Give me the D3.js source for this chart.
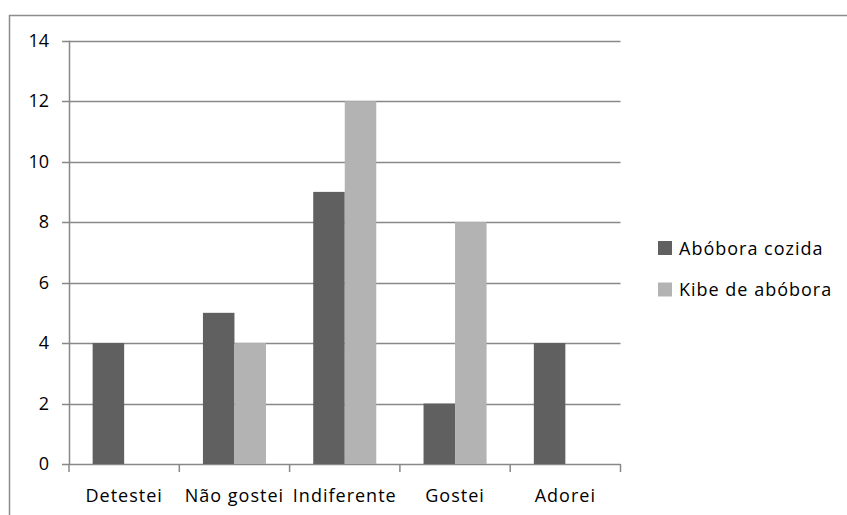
<!DOCTYPE html>
<html><head><meta charset="utf-8">
<script src="https://cdn.jsdelivr.net/npm/d3@7"></script>
<style>body{margin:0;background:#fff;}svg{display:block;font-family:"Open Sans","Noto Sans",sans-serif;}</style>
</head><body><svg id="c" width="847" height="515"></svg>
<script>
const categories = ["Detestei", "Não gostei", "Indiferente", "Gostei", "Adorei"];
const seriesNames = ["Abóbora cozida", "Kibe de abóbora"];
const aboboraCozida = [4, 5, 9, 2, 4];
const kibeDeAbobora = [0, 4, 12, 8, 0];
const yTicks = [0, 2, 4, 6, 8, 10, 12, 14];
const colors = ["#606060", "#b3b3b3"];

(function () {
const svg = d3.select("#c");
svg.append("rect").attr("x", 9.5).attr("y", 15.5).attr("width", 900).attr("height", 600)
  .attr("fill", "none").attr("stroke", "#8c8c8c").attr("stroke-width", 1.5);

const pl = 69, pr = 620.5, pt = 40.7, pb = 464;
const x = d3.scaleBand().domain(categories).range([pl, pr]);
const y = d3.scaleLinear().domain([0, 14]).range([pb, pt]);
const series = [aboboraCozida, kibeDeAbobora];
const barW = x.bandwidth() / 3.5;

svg.append("g").selectAll("line").data(yTicks).join("line")
  .attr("x1", pl - 7).attr("x2", pr)
  .attr("y1", d => Math.round(y(d)) + 0.5).attr("y2", d => Math.round(y(d)) + 0.5)
  .attr("stroke", "#888").attr("stroke-width", 1.5);

series.forEach((vals, si) => {
  svg.append("g").selectAll("rect").data(vals.map((v, i) => ({v, c: categories[i]})).filter(d => d.v > 0)).join("rect")
    .attr("x", d => x(d.c) + x.bandwidth() / 2 - barW + si * barW)
    .attr("width", barW)
    .attr("y", d => y(d.v))
    .attr("height", d => y(0) - y(d.v))
    .attr("fill", colors[si]);
});

svg.append("line").attr("x1", pl + 0.5).attr("x2", pl + 0.5).attr("y1", pt).attr("y2", pb)
  .attr("stroke", "#888").attr("stroke-width", 1.5);
const xt = categories.map(c => x(c)).concat([x(categories[categories.length - 1]) + x.bandwidth()]);
svg.append("g").selectAll("line").data(xt).join("line")
  .attr("x1", d => d).attr("x2", d => d).attr("y1", pb).attr("y2", pb + 8)
  .attr("stroke", "#888").attr("stroke-width", 1.5);

svg.append("g").selectAll("text").data(yTicks).join("text")
  .attr("x", 49).attr("y", d => y(d) + 6).attr("text-anchor", "end")
  .attr("font-size", 18).attr("fill", "#000").text(d => d);

svg.append("g").selectAll("text").data(categories).join("text")
  .attr("x", d => x(d) + x.bandwidth() / 2).attr("y", 502).attr("text-anchor", "middle")
  .attr("font-size", 18).attr("letter-spacing", "1px").attr("fill", "#000").text(d => d);

const lg = svg.append("g");
seriesNames.forEach((n, i) => {
  const ly = 248 + i * 41.5;
  lg.append("rect").attr("x", 658).attr("y", ly - 7).attr("width", 14).attr("height", 14).attr("fill", colors[i]);
  lg.append("text").attr("x", 679).attr("y", ly + 6.5).attr("font-size", 18).attr("letter-spacing", "1px").attr("fill", "#000").text(n);
});
})();
</script></body></html>
